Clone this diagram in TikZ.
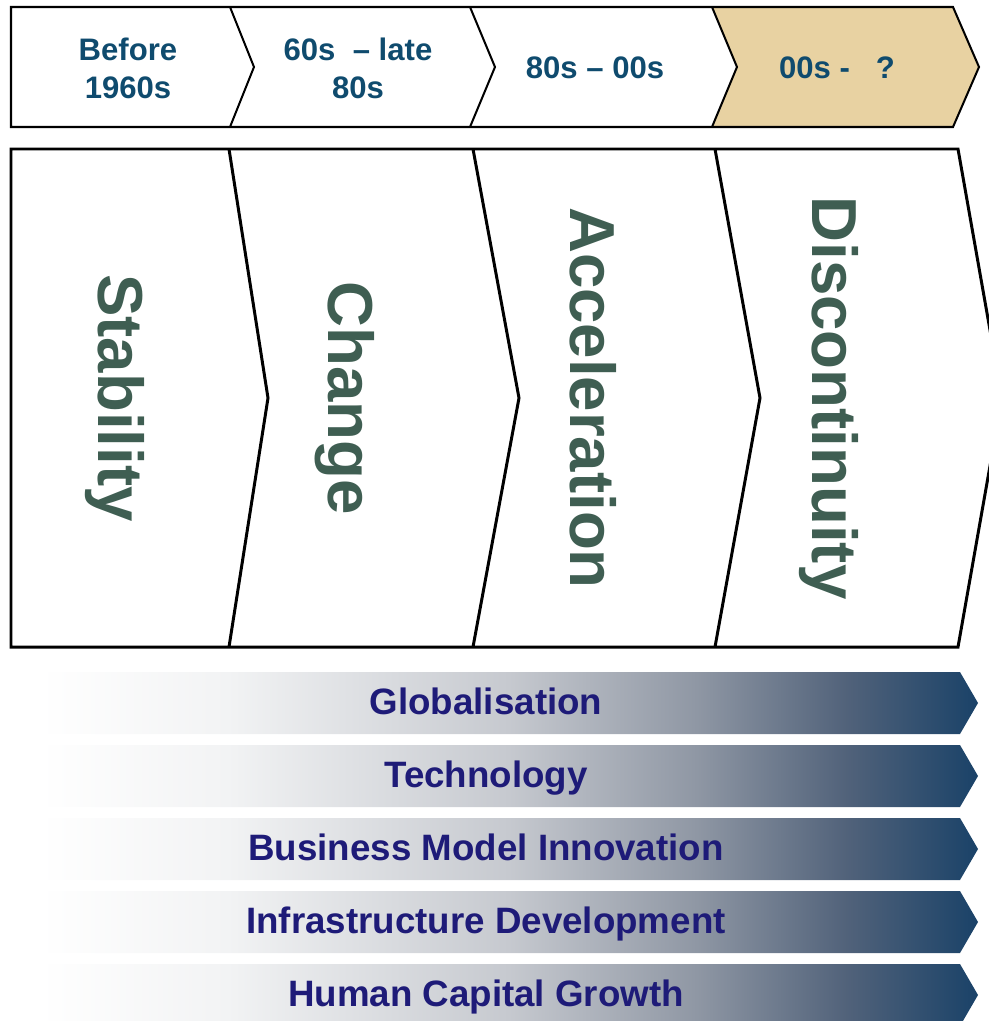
\documentclass[tikz,border=0pt]{standalone}
\usepackage{fontspec}
\setmainfont{Liberation Sans}
\usetikzlibrary{positioning}
\definecolor{eraBlue}{HTML}{0F4B6E}
\definecolor{phaseGreen}{HTML}{3F5E52}
\definecolor{driverBlue}{HTML}{1E1B78}
\definecolor{nowTan}{HTML}{E8D2A2}
\definecolor{fadeA}{HTML}{F2F3F4}
\definecolor{fadeB}{HTML}{C6C9CF}
\definecolor{fadeC}{HTML}{8F97A4}
\definecolor{fadeD}{HTML}{51627A}
\definecolor{fadeE}{HTML}{1A4268}
% white on the left, dark navy at the arrow head
\pgfdeclarehorizontalshading{bandfade}{100bp}{color(0bp)=(white); color(25bp)=(white); color(35bp)=(fadeA); color(50bp)=(fadeB); color(60bp)=(fadeC); color(68bp)=(fadeD); color(75bp)=(fadeE); color(100bp)=(fadeE)}
\tikzset{
	x=0.02cm, y=-0.02cm, % one unit is one pixel, y runs downwards
	era text/.style = {font=\fontsize{17.7}{21.6}\selectfont\bfseries, text=eraBlue, align=center, anchor=base, inner sep=0pt},
	phase text/.style = {font=\fontsize{36.2}{40}\selectfont\bfseries, text=phaseGreen, rotate=-90, anchor=base, inner sep=0pt},
	band text/.style = {font=\fontsize{20.9}{24}\selectfont\bfseries, text=driverBlue, anchor=base, inner sep=0pt},
	band/.style = {shading=bandfade}
}

\begin{document}
\begin{tikzpicture}
            \useasboundingbox (0,0) rectangle (988,1021);
            % time line on top
            \fill[nowTan] (712,7) -- (953,7) -- (979,67) -- (953,127) -- (712,127) -- (737,67) -- cycle;
            \draw[line width=1.15pt, line join=miter] (11,7) -- (953,7) -- (979,67) -- (953,127) -- (11,127) -- cycle;
            \draw[line width=1.15pt] (230,7) -- (254,67) -- (230,127);
            \draw[line width=1.15pt] (470,7) -- (495,67) -- (470,127);
            \draw[line width=1.15pt] (712,7) -- (737,67) -- (712,127);
            \node[era text] (1) at (128,98) {Before\\1960s}; % base is the last line
            \node[era text] (2) at (358,98) {60s \ -- late\\80s};
            \node[era text] (3) at (595,78) {80s -- 00s};
            \node[era text] (4) at (837,78) {00s - \ \ ?};
            % the four phases
            \draw[line width=1.7pt, line join=miter] (11,149) -- (958,149) -- (1002,398) -- (958,647) -- (11,647) -- cycle;
            \draw[line width=1.7pt] (229,149) -- (268,398) -- (229,647);
            \draw[line width=1.7pt] (473,149) -- (519,398) -- (473,647);
            \draw[line width=1.7pt] (715,149) -- (760,398) -- (715,647);
            \node[phase text] (5) at (98,398) {Stability};
            \node[phase text] (6) at (328,398) {Change};
            \node[phase text] (7) at (570,398) {Acceleration};
            \node[phase text] (8) at (812,398) {Discontinuity};
            % drivers underneath
            \shade[band] (40,672) -- (960,672) -- (978,703) -- (960,734) -- (40,734) -- cycle;
            \shade[band] (40,745) -- (960,745) -- (978,776) -- (960,807) -- (40,807) -- cycle;
            \shade[band] (40,818) -- (960,818) -- (978,849) -- (960,880) -- (40,880) -- cycle;
            \shade[band] (40,891) -- (960,891) -- (978,922) -- (960,953) -- (40,953) -- cycle;
            \shade[band] (40,964) -- (960,964) -- (978,995) -- (960,1026) -- (40,1026) -- cycle;
            \node[band text] (9) at (486,714) {Globalisation};
            \node[band text] (10) at (486,787) {Technology};
            \node[band text] (11) at (486,860) {Business Model Innovation};
            \node[band text] (12) at (486,933) {Infrastructure Development};
            \node[band text] (13) at (486,1006) {Human Capital Growth};
\end{tikzpicture}
\end{document}
